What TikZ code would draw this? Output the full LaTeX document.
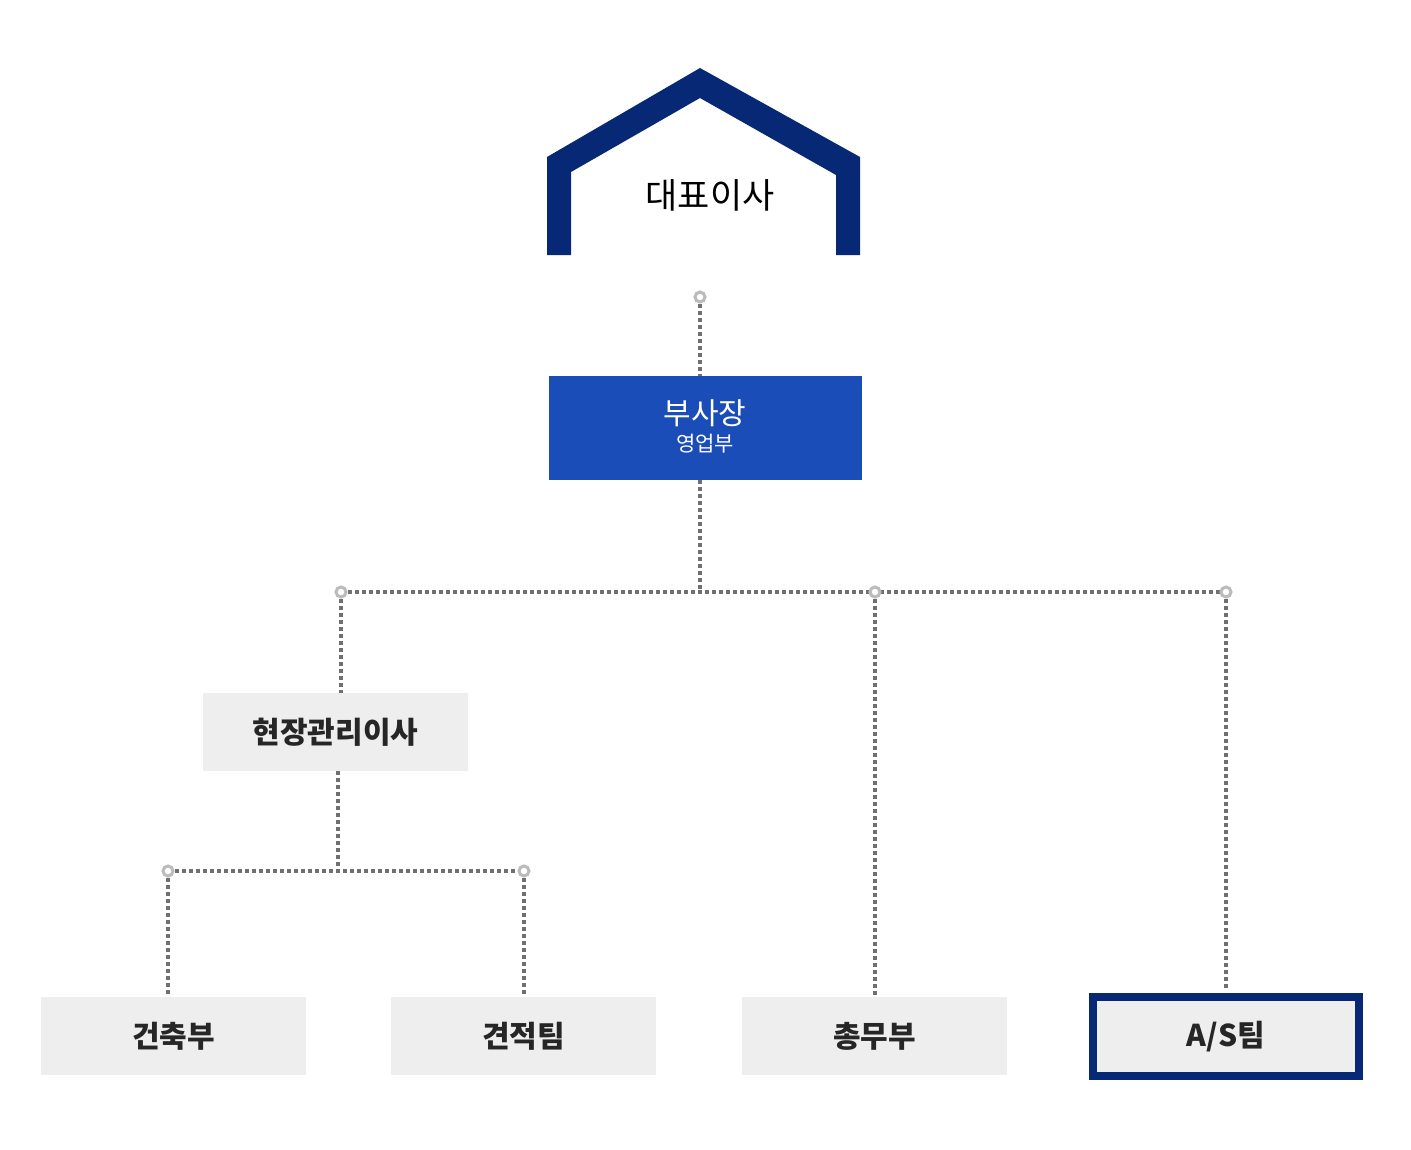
\documentclass[tikz,border=0pt]{standalone}
\usepackage{fontspec}
\newfontfamily\kr{Noto Sans CJK KR}
\usetikzlibrary{positioning}
\definecolor{navy}{HTML}{072875}
\definecolor{vpblue}{HTML}{1B4DB8}
\definecolor{boxgray}{HTML}{EEEEEE}
\definecolor{linegray}{HTML}{707070}
\definecolor{dotgray}{HTML}{BBBBBB}
\tikzset{%
  unit/.style={fill=boxgray, minimum width=265pt, minimum height=78pt, inner sep=0pt, font=\kr\bfseries\fontsize{30}{32}\selectfont, text=black!85},
  vp/.style={fill=vpblue, minimum width=313pt, minimum height=104pt, inner sep=0pt},
  vptext/.style={text=white, inner sep=0pt, font=\kr},
  link/.style={draw=linegray, line width=4pt, dash pattern=on 4pt off 3pt},
  joint/.style={circle, draw=dotgray, fill=white, line width=3pt, minimum size=10pt, inner sep=0pt}
}
\begin{document}
\begin{tikzpicture}[x=1pt, y=-1pt]
  \useasboundingbox (0,0) rectangle (1411,1149);

  % top
  \fill[navy] (547,255) -- (547,157) -- (700,68) -- (860,157) -- (860,255) -- (836,255) -- (836,175) -- (700,98) -- (571,172) -- (571,255) -- cycle;
  \node[font=\kr\fontsize{35}{37}\selectfont] (ceo) at (710,195) {대표이사};

  \node[vp] (vp) at (705.5,428) {};
  \node[vptext, font=\kr\fontsize{30}{32}\selectfont] (vpname) at (705,413) {부사장};
  \node[vptext, font=\kr\fontsize{21}{23}\selectfont] (vpdept) at (705,444) {영업부};
  \node[unit] (site) at (335.5,732) {현장관리이사};
  \node[unit] (build) at (173.5,1036) {건축부};
  \node[unit] (est) at (523.5,1036) {견적팀};
  \node[unit] (admin) at (874.5,1036) {총무부};
  \node[unit, draw=navy, line width=8pt, minimum width=266pt, minimum height=79pt] (as) at (1226,1036.5) {A/S팀};

  % connectors
  \coordinate (top) at (700,297);
  \coordinate (hub) at (700,592);
  \coordinate (left) at (341,592);
  \coordinate (mid) at (875,592);
  \coordinate (right) at (1226,592);
  \coordinate (sub) at (338,871);
  \coordinate (subl) at (168,871);
  \coordinate (subr) at (524,871);

  \draw[link] (top) -- (vp.north -| top);
  \draw[link] (vp.south -| hub) -- (hub);
  \draw[link] (left) -- (right);
  \draw[link] (left) -- (site.north -| left);
  \draw[link] (mid) -- (admin.north -| mid);
  \draw[link] (right) -- ([yshift=4pt]as.north -| right);
  \draw[link] (site.south -| sub) -- (sub);
  \draw[link] (subl) -- (subr);
  \draw[link] (subl) -- (build.north -| subl);
  \draw[link] (subr) -- (est.north -| subr);

  \foreach \p in {top, left, mid, right, subl, subr}
    \node[joint] at (\p) {};
\end{tikzpicture}
\end{document}
